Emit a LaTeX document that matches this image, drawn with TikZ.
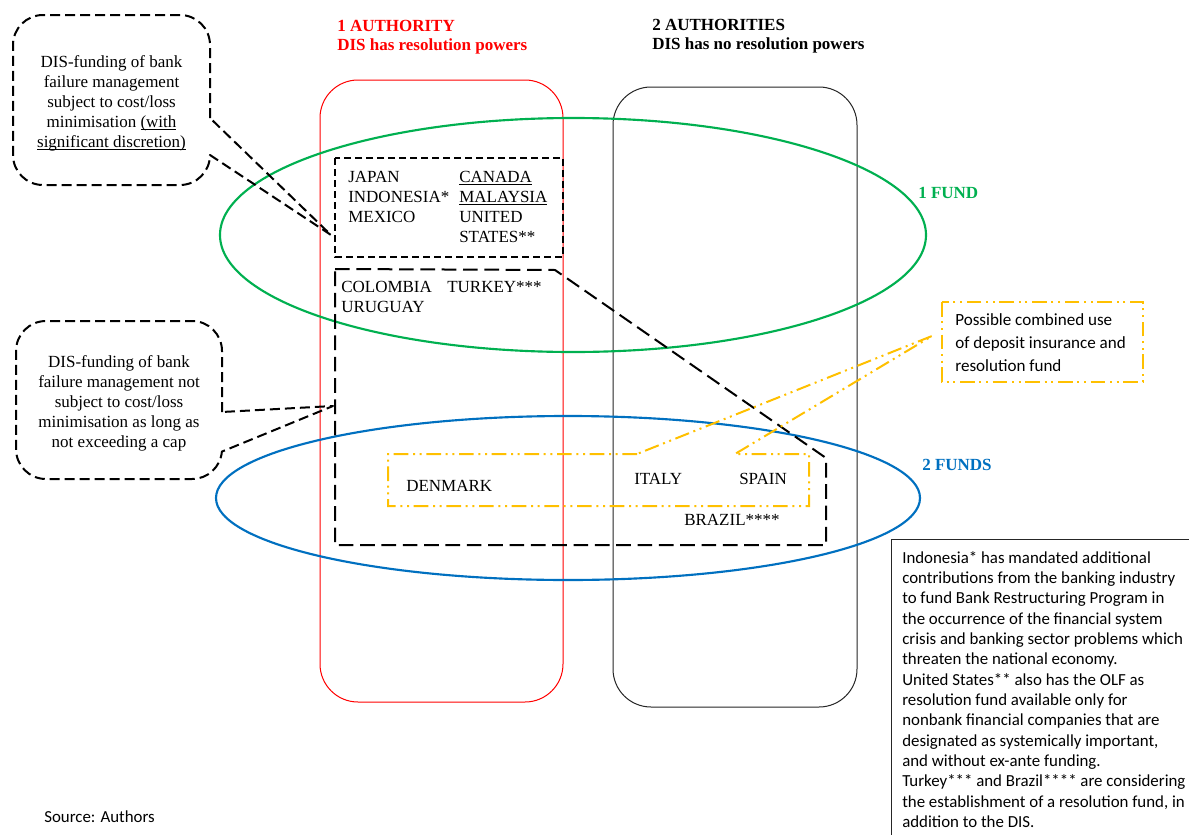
\documentclass[tikz,border=0pt]{standalone}
\usepackage{fontspec}
\setmainfont{Liberation Serif}
\newfontfamily\calib{Carlito}
\definecolor{msgreen}{HTML}{00B050}
\definecolor{msblue}{HTML}{0070C0}
\definecolor{msgold}{HTML}{FFC000}
\newcommand\myul[1]{\setbox0\hbox{#1}\rlap{\rule[-1.8pt]{\wd0}{0.6pt}}\box0}
\newcommand\mystrut{\rule{0pt}{12pt}}
\begin{document}
\begin{tikzpicture}[x=0.75pt,y=-0.75pt,
  serif/.style={font=\fontsize{12.75}{15}\selectfont, inner sep=0pt},
  boldtxt/.style={font=\fontsize{12.75}{14.5}\selectfont\bfseries, inner sep=0pt},
  sans/.style={font=\calib\fontsize{12.65}{15.25}\selectfont, inner sep=0pt},
  callout/.style={draw=black, line width=1.5pt, dash pattern=on 7.5pt off 3.75pt, line join=round},
  shortdash/.style={draw=black, line width=1.5pt, dash pattern=on 5.25pt off 3pt},
  longdash/.style={draw=black, line width=1.5pt, dash pattern=on 11pt off 5pt, line join=round},
  ddot/.style={draw=msgold, line width=1.5pt, dash pattern=on 11pt off 3.5pt on 1.5pt off 3.5pt on 1.5pt off 3.5pt}
]
\fill[white] (0,0) rectangle (1189,835);
\useasboundingbox (0,0) rectangle (1189,835);

% authority frames
\draw[red, line width=0.75pt, rounded corners=28.5pt] (320,80) rectangle (563,702);
\draw[black!85, line width=0.75pt, rounded corners=28.5pt] (613,87) rectangle (857,707);

% fund ellipses
\draw[msgreen, line width=1.6pt] (573,235) ellipse [x radius=264.75pt, y radius=87.75pt];
\draw[msblue, line width=1.6pt] (568,498) ellipse [x radius=264pt, y radius=61.5pt];

% country groups
\draw[shortdash] (335,158) rectangle (563,257);
\draw[longdash] (335,269) -- (555,270) -- (826,458) -- (826,545) -- (335,545) -- cycle;

% yellow callout around Denmark / Italy / Spain
\draw[ddot] (637,454) -- (388,454) -- (388,506) -- (809,506) -- (809,454) -- (735,454) -- (932,336) -- cycle;
\draw[ddot] (942,302) rectangle (1143,382);

% left callouts
\draw[callout] (210,118) -- (210,45) arc[start angle=0,end angle=90,radius=22.5pt]
  -- (43,15) arc[start angle=90,end angle=180,radius=22.5pt]
  -- (13,155) arc[start angle=180,end angle=270,radius=22.5pt]
  -- (180,185) arc[start angle=270,end angle=360,radius=22.5pt]
  -- (331,235) -- cycle;
\draw[callout] (222,412) -- (222,351) arc[start angle=0,end angle=90,radius=22.5pt]
  -- (46,321) arc[start angle=90,end angle=180,radius=22.5pt]
  -- (16,449) arc[start angle=180,end angle=270,radius=22.5pt]
  -- (192,479) arc[start angle=270,end angle=355,radius=22.5pt]
  -- (333,406) -- cycle;

% notes box
\draw[black!85, line width=0.75pt] (1195,539) -- (891,539) -- (891,845);

% headers
\node[boldtxt, text=red, align=left, anchor=north west] (h1) at (337,15) {\mystrut 1 AUTHORITY\\DIS has resolution powers};
\node[boldtxt, text=black, align=left, anchor=north west] (h2) at (652,14) {\mystrut 2 AUTHORITIES\\DIS has no resolution powers};
\node[boldtxt, text=msgreen, anchor=base west] (f1) at (918,198) {1 FUND};
\node[boldtxt, text=msblue, anchor=base west] (f2) at (922,470) {2 FUNDS};

% callout texts
\node[serif, align=center, anchor=north] (c1) at (111.5,51) {\mystrut DIS-funding of bank\\failure management\\subject to cost/loss\\minimisation \myul{(with}\\\myul{significant discretion)}};
\node[serif, align=center, anchor=north] (c2) at (119,351) {\mystrut DIS-funding of bank\\failure management not\\subject to cost/loss\\minimisation as long as\\not exceeding a cap};

% countries
\node[serif, align=left, anchor=north west] (lc) at (348,166) {\mystrut JAPAN\\INDONESIA*\\MEXICO};
\node[serif, align=left, anchor=north west] (rc) at (459,166) {\mystrut\myul{CANADA}\\\myul{MALAYSIA}\\UNITED\\STATES**};
\node[serif, align=left, anchor=north west] (co) at (341,276) {\mystrut COLOMBIA\\URUGUAY};
\node[serif, anchor=base west] (tu) at (447,292) {TURKEY***};
\node[serif, anchor=base west] (dk) at (406,491) {DENMARK};
\node[serif, anchor=base west] (it) at (634,484) {ITALY};
\node[serif, anchor=base west] (es) at (739,484) {SPAIN};
\node[serif, anchor=base west] (br) at (684,525) {BRAZIL****};

% sans texts
\node[sans, align=left, anchor=north west, font=\calib\fontsize{12.8}{17.25}\selectfont] (yt) at (955,309) {\mystrut Possible combined use\\of deposit insurance and\\resolution fund};
\node[sans, align=left, anchor=north west] (note) at (902,547) {\mystrut Indonesia* has mandated additional\\contributions from the banking industry\\to fund Bank Restructuring Program in\\the occurrence of the financial system\\crisis and banking sector problems which\\threaten the national economy.\\United States** also has the OLF as\\resolution fund available only for\\nonbank financial companies that are\\designated as systemically important,\\and without ex-ante funding.\\Turkey*** and Brazil**** are considering\\the establishment of a resolution fund, in\\addition to the DIS.};
\node[sans, anchor=base west] (src) at (44,822) {Source: Authors};
\end{tikzpicture}
\end{document}
